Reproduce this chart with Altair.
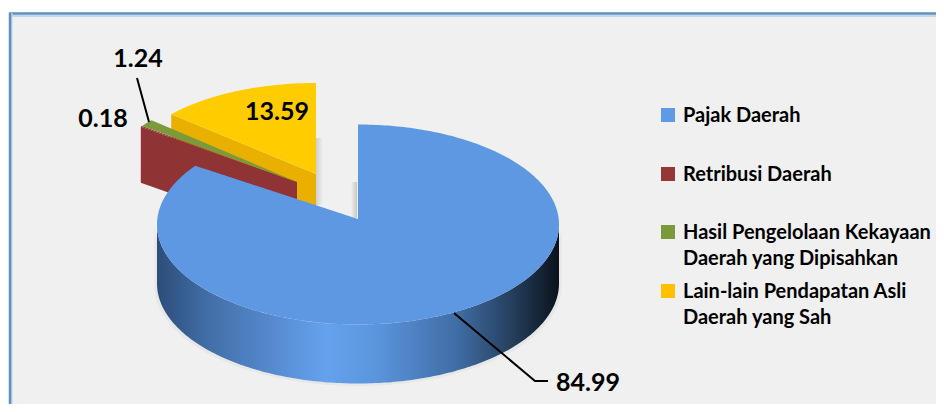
import numpy as np
import pandas as pd
import altair as alt

categories = ["Pajak Daerah", "Retribusi Daerah", "Hasil Pengelolaan Kekayaan Daerah yang Dipisahkan", "Lain-lain Pendapatan Asli Daerah yang Sah"]
values = [84.99, 0.18, 1.24, 13.59]
value_labels = ["84.99", "0.18", "1.24", "13.59"]
legend_lines = [["Pajak Daerah"], ["Retribusi Daerah"], ["Hasil Pengelolaan Kekayaan", "Daerah yang Dipisahkan"], ["Lain-lain Pendapatan Asli", "Daerah yang Sah"]]
legend_colors = ["#5e9ae6", "#953735", "#7a9a3c", "#ffc000"]

X = alt.Scale(domain=[8, 936], nice=False, zero=False)
Y = alt.Scale(domain=[404, 8], nice=False, zero=False)
FONT = "Lato"
DEPTH = 59

edges = np.cumsum([0] + values) / sum(values) * 2 * np.pi


def pt(c, rx, ry, t):
    return c[0] + rx * np.sin(t), c[1] - ry * np.cos(t)


def wedge(vertex, c, rx, ry, t0, t1, n=40):
    """Sector in the upper-left quadrant, from angle t0 to t1, as x / top / bottom rows."""
    x0, y0 = pt(c, rx, ry, t0)
    x1, y1 = pt(c, rx, ry, t1)
    ts = np.linspace(t0, t1, n)
    ax, ay = pt(c, rx, ry, ts)
    rows = []
    for x, y in zip(ax, ay):
        rows.append((x, y))
    if x1 < vertex[0] - 0.01:
        rows.append((vertex[0], vertex[1]))
    df = pd.DataFrame(rows, columns=["x", "y"])
    df["y2"] = y0 + (df["x"] - x0) * (vertex[1] - y0) / (vertex[0] - x0)
    return df


def cut_face(vertex, c, rx, ry, t, depth):
    x0, y0 = pt(c, rx, ry, t)
    df = pd.DataFrame({"x": [x0, vertex[0]], "y": [y0, vertex[1]]})
    df["y2"] = df["y"] + depth
    return df


def blue_top(vertex, c, rx, ry, t_end, n=200):
    xe, ye = pt(c, rx, ry, t_end)
    rows = []
    u = np.linspace(-np.pi / 2, np.pi / 2, n)
    for s in u:
        x = c[0] + rx * np.sin(s)
        dy = ry * np.cos(s)
        if x < xe:
            rows.append((x, c[1] - dy, c[1] + dy))
    low = lambda x: c[1] + ry * np.sqrt(max(0, 1 - ((x - c[0]) / rx) ** 2))
    rows.append((xe, ye, low(xe)))
    for x in np.linspace(xe, vertex[0], 40)[1:]:
        rows.append((x, ye + (x - xe) * (vertex[1] - ye) / (vertex[0] - xe), low(x)))
    rows.append((vertex[0] + 0.01, c[1] - ry, low(vertex[0])))
    for s in u:
        x = c[0] + rx * np.sin(s)
        dy = ry * np.cos(s)
        if x > vertex[0] + 0.01:
            rows.append((x, c[1] - dy, c[1] + dy))
    return pd.DataFrame(rows, columns=["x", "y", "y2"])


def blue_side(c, rx, ry, depth, grow=0.0, n=200):
    u = np.linspace(-np.pi / 2, np.pi / 2, n)
    x = c[0] + (rx + grow) * np.sin(u)
    y = c[1] + ry * np.cos(u)
    return pd.DataFrame({"x": x, "y": y, "y2": y + depth + grow})


def area(df, **mark):
    return alt.Chart(df).mark_area(interpolate="linear", orient="vertical", **mark).encode(
        x=alt.X("x:Q", scale=X, axis=None),
        y=alt.Y("y:Q", scale=Y, axis=None),
        y2="y2:Q",
    )


def grad(stops, horizontal=True):
    return alt.LinearGradient(
        gradient="linear",
        stops=[alt.GradientStop(offset=o, color=k) for o, k in stops],
        x1=0, x2=1 if horizontal else 0, y1=0, y2=0 if horizontal else 1,
    )


def seg(points):
    return alt.Chart(pd.DataFrame({"x": [p[0] for p in points], "y": [p[1] for p in points], "i": range(len(points))})).mark_line(
        color="#000000", strokeWidth=2
    ).encode(x=alt.X("x:Q", scale=X, axis=None), y=alt.Y("y:Q", scale=Y, axis=None), order="i:Q")


def rule_h(y, color, w):
    return alt.Chart(pd.DataFrame({"x": [9], "x2": [936], "y": [y]})).mark_rule(color=color, strokeWidth=w).encode(
        x=alt.X("x:Q", scale=X, axis=None), x2="x2:Q", y=alt.Y("y:Q", scale=Y, axis=None))


def rule_v(x, color, w):
    return alt.Chart(pd.DataFrame({"x": [x], "y": [13], "y2": [404]})).mark_rule(color=color, strokeWidth=w).encode(
        x=alt.X("x:Q", scale=X, axis=None), y=alt.Y("y:Q", scale=Y, axis=None), y2="y2:Q")


panel = alt.Chart(pd.DataFrame({"x": [10], "x2": [936], "y": [14], "y2": [404]})).mark_rect(color="#f0f0f0").encode(
    x=alt.X("x:Q", scale=X, axis=None), x2="x2:Q", y=alt.Y("y:Q", scale=Y, axis=None), y2="y2:Q")

# geometry of the exploded slices, angles come from the values
bc, bv = (358, 224.5), (358, 219)
yc, yv = (316, 174), (316, 174)
gc, gv = (297, 182), (297, 182)

shade = [(0, "#cfcfcf"), (1, "#f0f0f0")]
shadow_yellow = area(pd.DataFrame({"x": [316, 323], "y": [138, 138], "y2": [205, 205]}), color=grad(shade))
shade_l = [(0, "#f0f0f0"), (1, "#c6c6c6")]
shadow_blue = area(pd.DataFrame({"x": [351, 357], "y": [182, 182], "y2": [218, 218]}), color=grad(shade_l))

blue_shadow = area(blue_side(bc, 201, 100, DEPTH, grow=2.5), color="#e2e2e2", opacity=0.7)

layers = [
    panel,
    rule_h(16, "#c3d6ea", 2), rule_h(13.5, "#5f8fc0", 2.5),
    rule_v(11.5, "#c3d6ea", 2), rule_v(10, "#5f8fc0", 2.5),
    shadow_yellow,
    shadow_blue,
    area(cut_face(yv, yc, 192, 91, edges[3], DEPTH), color="#e9b000"),
    area(wedge(yv, yc, 192, 91, edges[3], edges[4]), color="#ffcc00"),
    area(cut_face(gv, gc, 193, 94, edges[1], DEPTH - 3), color="#8f3335"),
    area(wedge(gv, gc, 193, 94, edges[1], edges[2]), color="#953735"),
    area(wedge(gv, gc, 193, 94, edges[2], edges[3]), color="#7a9a3c"),
    blue_shadow,
    area(blue_side(bc, 201, 100, DEPTH), color=grad([
        (0.0, "#2c4d7a"), (0.13, "#426fa8"), (0.42, "#66a1ee"), (0.55, "#5a94dc"),
        (0.75, "#3f6ca3"), (0.88, "#26405f"), (1.0, "#0a121c")])),
    area(blue_top(bv, bc, 201, 100, edges[1]), color="#5e98e3"),
    seg([(137, 78), (149, 122)]),
    seg([(454, 313), (535, 381), (548, 381)]),
]

val_df = pd.DataFrame({"t": value_labels, "x": [588, 103, 138, 277], "y": [383, 119, 59, 112]})
layers.append(alt.Chart(val_df).mark_text(font=FONT, fontWeight="bold", fontSize=25, color="#000000").encode(
    x=alt.X("x:Q", scale=X, axis=None), y=alt.Y("y:Q", scale=Y, axis=None), text="t:N"))

leg_y = [115, 174, 232, 291]
sq_df = pd.DataFrame({"c": categories, "x": [668] * 4, "y": leg_y, "k": legend_colors})
layers.append(alt.Chart(sq_df).mark_square(size=196, opacity=1).encode(
    x=alt.X("x:Q", scale=X, axis=None), y=alt.Y("y:Q", scale=Y, axis=None),
    color=alt.Color("k:N", scale=None, legend=None)))

rows = []
for yy, lines in zip(leg_y, legend_lines):
    for j, line in enumerate(lines):
        rows.append({"t": line, "x": 683, "y": yy + 1 + j * 26})
layers.append(alt.Chart(pd.DataFrame(rows)).mark_text(font=FONT, fontWeight="bold", fontSize=20, align="left", color="#000000").encode(
    x=alt.X("x:Q", scale=X, axis=None), y=alt.Y("y:Q", scale=Y, axis=None), text="t:N"))

chart = alt.layer(*layers).properties(width=928, height=396, padding=0, autosize=alt.AutoSizeParams(type="none"), background="#ffffff").configure_view(stroke=None)
chart.save("out.html", embed_options={"renderer": "svg", "actions": False})
